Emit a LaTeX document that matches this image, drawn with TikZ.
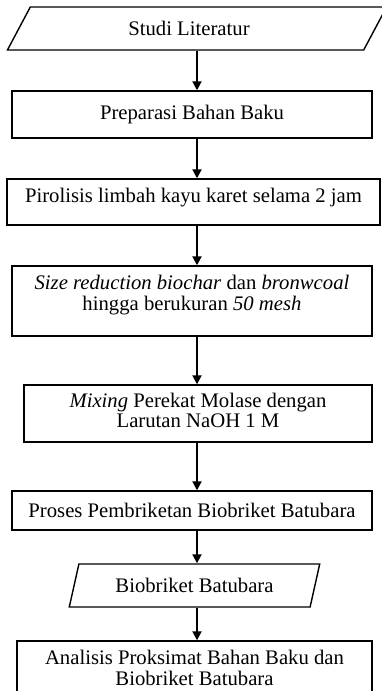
\documentclass[tikz,border=0pt]{standalone}
\usepackage{fontspec}
\setmainfont{Liberation Serif}
\usetikzlibrary{shapes.geometric}
\usetikzlibrary{arrows.meta}
\newcommand{\lift}[2]{\raisebox{#1}[\height][\depth]{#2}}
\newcommand{\twolines}[3]{\lift{#1}{\begin{tabular}{@{}c@{}}#2\\#3\end{tabular}}}

\begin{document}
\begin{tikzpicture}[x=0.5pt,y=-0.5pt,
    stepbox/.style={rectangle, draw, line width=0.7pt, inner sep=2pt},
    iobox/.style={trapezium, draw, line width=0.7pt, inner sep=2pt, trapezium stretches=true}]
    \tikzset{flow/.style={line width=1pt, -{Triangle[length=4.5pt,width=4.5pt]}}}
    \fontsize{10.35}{10.3}\selectfont
    \useasboundingbox (0,0) rectangle (381,691);
    \coordinate (axis) at (197,0);
    %input / process boxes
    \node[iobox, trapezium left angle=71, trapezium right angle=109, minimum width=190pt, minimum height=21.5pt] (lit) at (197,28.5) {\hspace*{-8pt}Studi Literatur};
    \node[stepbox, minimum width=180pt, minimum height=23.5pt] (prep) at (192,114.5) {Preparasi Bahan Baku};
    \node[stepbox, minimum width=186.5pt, minimum height=23pt] (pir) at (193.5,202) {\lift{2pt}{Pirolisis limbah kayu karet selama 2 jam}};
    \node[stepbox, minimum width=180pt, minimum height=35pt] (size) at (192,301) {\twolines{2.5pt}{\textit{Size reduction biochar} dan \textit{bronwcoal}}{hingga berukuran \textit{50 mesh}}};
    \node[stepbox, minimum width=174pt, minimum height=28.5pt] (mix) at (198,413.5) {\twolines{0pt}{\textit{Mixing} Perekat Molase dengan}{Larutan NaOH 1 M}};
    \node[stepbox, minimum width=180pt, minimum height=19.5pt] (bri) at (192,510.5) {Proses Pembriketan Biobriket Batubara};
    \node[iobox, trapezium left angle=73, trapezium right angle=107, minimum width=125.5pt, minimum height=21.5pt] (bio) at (194.5,585.5) {Biobriket Batubara};
    \node[stepbox, minimum width=177.5pt, minimum height=30pt] (ana) at (194.5,671) {\twolines{0pt}{Analisis Proksimat Bahan Baku dan}{Biobriket Batubara}};
    %arrows
    \foreach \a/\b in {lit/prep, prep/pir, pir/size, size/mix, mix/bri, bri/bio, bio/ana}
        \draw[flow] (axis |- \a.south) -- (axis |- \b.north);
\end{tikzpicture}
\end{document}
